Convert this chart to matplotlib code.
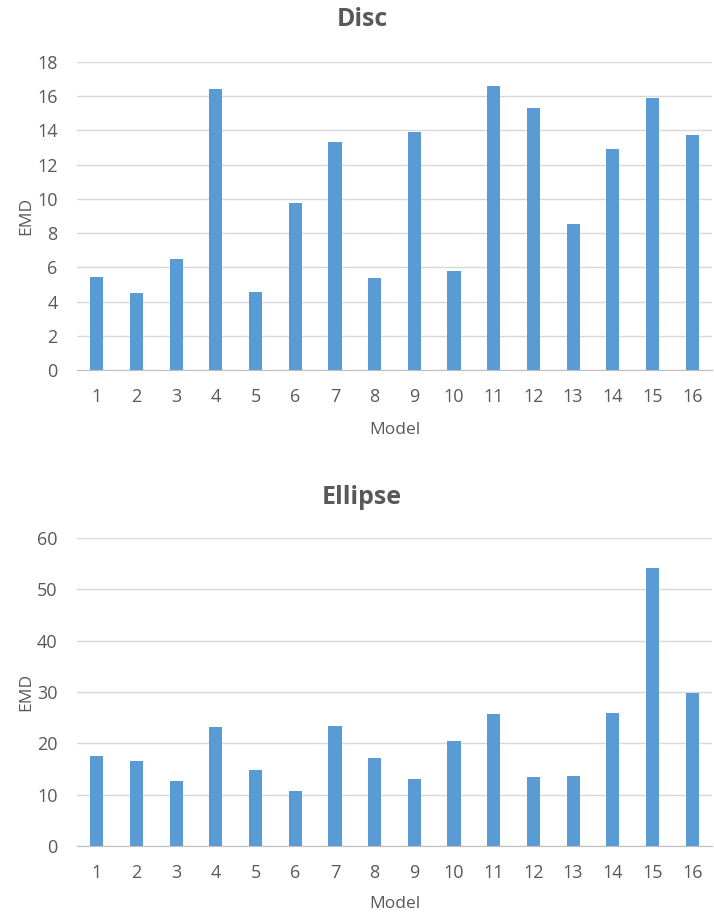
import matplotlib
matplotlib.use("Agg")
import matplotlib.pyplot as plt

models = [str(i) for i in range(1, 17)]
disc_emd = [5.43, 4.49, 6.48, 16.44, 4.55, 9.77, 13.32, 5.35, 13.89, 5.78, 16.58, 15.31, 8.55, 12.89, 15.88, 13.75]
ellipse_emd = [17.6, 16.5, 12.6, 23.1, 14.8, 10.7, 23.3, 17.2, 13.1, 20.5, 25.7, 13.4, 13.6, 26.0, 54.1, 29.9]
disc_ticks = [0, 2, 4, 6, 8, 10, 12, 14, 16, 18]
ellipse_ticks = [0, 10, 20, 30, 40, 50, 60]

W, H = 714, 917
fig = plt.figure(figsize=(W / 100, H / 100), dpi=100)
plt.rcParams['font.family'] = ['Open Sans', 'DejaVu Sans']
txt = '#595959'
bar_c = '#5B9BD5'

def make(ax_rect, vals, ticks, title, title_y, model_y):
    ax = fig.add_axes(ax_rect)
    x = list(range(len(models)))
    ax.bar(x, vals, width=0.33, color=bar_c, zorder=3)
    ax.set_xlim(-0.5, len(models) - 0.5)
    ax.set_ylim(ticks[0], ticks[-1])
    ax.set_yticks(ticks)
    ax.set_xticks(x)
    ax.set_xticklabels(models)
    ax.yaxis.grid(True, color='#d9d9d9', linewidth=1, zorder=0)
    for s in ['top', 'right', 'left']:
        ax.spines[s].set_visible(False)
    ax.spines['bottom'].set_color('#bfbfbf')
    ax.spines['bottom'].set_zorder(4)
    ax.tick_params(axis='both', length=0, labelsize=13, colors=txt)
    ax.tick_params(axis='x', pad=13)
    ax.tick_params(axis='y', pad=14)
    ax.set_ylabel('EMD', fontsize=12.5, color=txt, labelpad=2)
    fig.text(362 / W, 1 - title_y / H, title, ha='center', va='center',
             fontsize=18, fontweight='bold', color=txt)
    fig.text((ax_rect[0] + ax_rect[0] + ax_rect[2]) / 2, 1 - model_y / H, 'Model',
             ha='center', va='center', fontsize=12.5, color=txt)
    return ax

make([77 / W, 1 - 370 / H, (712 - 77) / W, 308 / H], disc_emd, disc_ticks, 'Disc', 20, 430)
make([77 / W, 1 - 846 / H, (712 - 77) / W, 308 / H], ellipse_emd, ellipse_ticks, 'Ellipse', 497, 904)

fig.savefig('out.png', dpi=100)
